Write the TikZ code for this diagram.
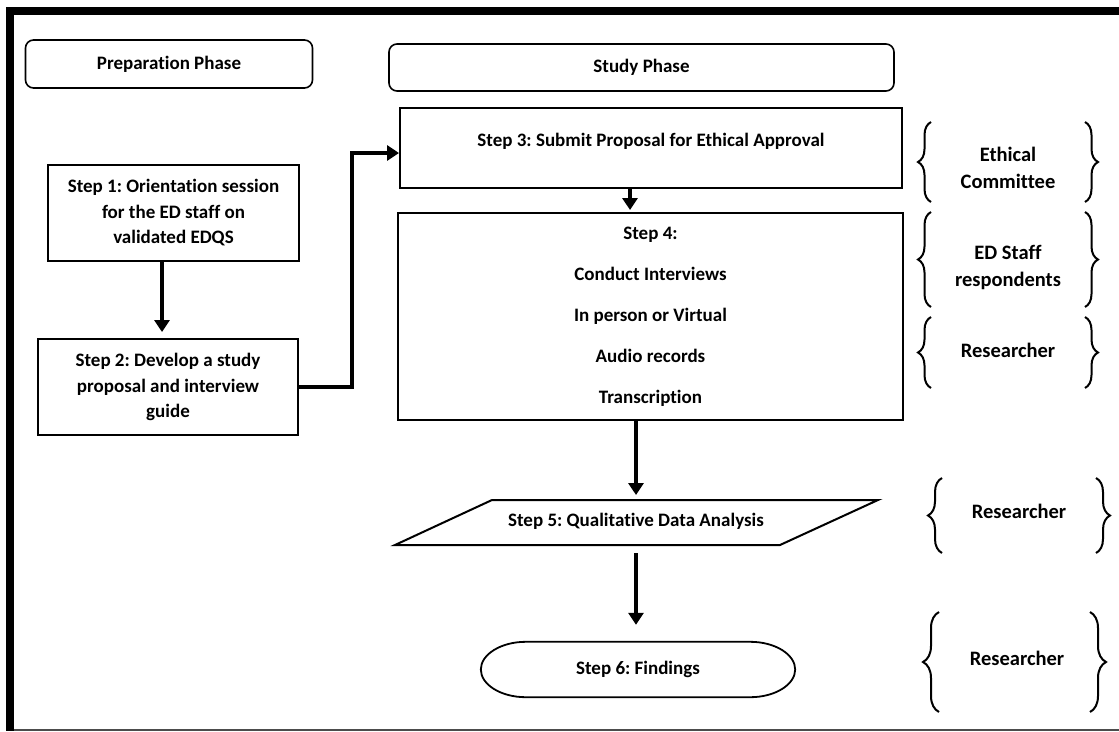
\documentclass[tikz,border=0pt]{standalone}
\usepackage{fontspec}
\setmainfont{Carlito}[Ligatures=NoCommon]
\usetikzlibrary{arrows.meta,decorations.pathreplacing,calc}

\begin{document}
\frenchspacing
\begin{tikzpicture}[x=1pt,y=-1pt,
  every node/.style={font=\bfseries\fontsize{19}{22}\selectfont, text=black},
  box/.style={draw, line width=2pt, rectangle, inner sep=0pt, align=center},
  phase/.style={box, rounded corners=8pt, line width=1.6pt},
  flow/.style={line width=3.5pt, -{Triangle[length=12pt,width=15pt]}},
  lbrace/.style={decorate, decoration={brace, amplitude=#1}, line width=2pt},
  grouplabel/.style={align=center, font=\bfseries\fontsize{20.5}{27}\selectfont},
]
\useasboundingbox (0,0) rectangle (1119,731);

% page frame
\fill (6,7) rectangle (1119,15);
\fill (6,7) rectangle (14,731);
\draw[line width=2pt, black!70] (14,730) -- (1119,730);

% phase headers
\node[phase, minimum width=287pt, minimum height=48pt] (prep) at (169,64) {Preparation Phase};
\node[phase, minimum width=505pt, minimum height=47pt] (study) at (641.5,67.5) {Study Phase};

% preparation steps
\node[box, minimum width=251pt, minimum height=96pt,
      font=\bfseries\fontsize{19}{25.5}\selectfont] (s1) at (173.5,213)
  {Step 1: Orientation session\\for the ED staff on\\validated EDQS};
\node[box, minimum width=260pt, minimum height=96pt,
      font=\bfseries\fontsize{19}{25.5}\selectfont] (s2) at (168,387)
  {Step 2: Develop a study\\proposal and interview\\guide};

% study steps
\node[box, minimum width=502pt, minimum height=80pt] (s3) at (651,148) {};
\node (s3t) at (651,141) {Step 3: Submit Proposal for Ethical Approval};

\node[box, minimum width=505pt, minimum height=207pt,
      font=\bfseries\fontsize{19}{41}\selectfont] (s4) at (650.5,316.5)
  {Step 4:\\Conduct Interviews\\In person or Virtual\\Audio records\\Transcription};

\coordinate (p5a) at (492,500);
\coordinate (p5b) at (878,500);
\coordinate (p5c) at (780,545);
\coordinate (p5d) at (395,545);
\draw[line width=2pt, line join=miter] (p5a) -- (p5b) -- (p5c) -- (p5d) -- cycle;
\node (s5) at (636,521) {Step 5: Qualitative Data Analysis};

\node[minimum width=314pt, minimum height=55pt, inner sep=0pt] (s6) at (638,669.5) {Step 6: Findings};
\draw[line width=1.8pt]
  ([xshift=45pt]s6.north west) -- ([xshift=-45pt]s6.north east)
  .. controls ([xshift=-20pt]s6.north east) and ([yshift=15pt]s6.east) .. (s6.east)
  .. controls ([yshift=-15pt]s6.east) and ([xshift=-20pt]s6.south east) .. ([xshift=-45pt]s6.south east)
  -- ([xshift=45pt]s6.south west)
  .. controls ([xshift=20pt]s6.south west) and ([yshift=-15pt]s6.west) .. (s6.west)
  .. controls ([yshift=15pt]s6.west) and ([xshift=20pt]s6.north west) .. cycle;

% connectors
\draw[flow, shorten >=6pt] ([xshift=-11.5pt]s1.south) -- ([xshift=-11.5pt]s1.south |- s2.north);
\draw[flow] (s2.east) -- ++(53,0) |- ([yshift=-5pt]s3.west);
\draw[flow, shorten >=2pt] ([xshift=-21pt]s3.south) -- ([xshift=-21pt]s3.south |- s4.north);
\draw[flow, shorten >=5pt] (s4.south -| s5) -- (p5a -| s5);
\draw[flow, shorten <=8pt, shorten >=17pt] (p5d -| s5) -- (s6.north -| s5);

% responsibility braces
\draw[lbrace=13pt] (931,202) -- (931,122);
\draw[lbrace=13pt] (1085,122) -- (1085,202);
\node[grouplabel] (g1) at (1008,168) {Ethical\\Committee};

\draw[lbrace=13pt] (931,307) -- (931,212);
\draw[lbrace=13pt] (1085,212) -- (1085,307);
\node[grouplabel] (g2) at (1008,267) {ED Staff\\respondents};

\draw[lbrace=13pt] (931,388) -- (931,317);
\draw[lbrace=13pt] (1085,317) -- (1085,388);
\node[grouplabel] (g3) at (1008,350) {Researcher};

\draw[lbrace=14pt] (942,553) -- (942,478);
\draw[lbrace=14pt] (1096,478) -- (1096,553);
\node[grouplabel] (g4) at (1019,511) {Researcher};

\draw[lbrace=16pt] (939,712) -- (939,612);
\draw[lbrace=16pt] (1090,612) -- (1090,712);
\node[grouplabel] (g5) at (1017,658) {Researcher};
\end{tikzpicture}
\end{document}
